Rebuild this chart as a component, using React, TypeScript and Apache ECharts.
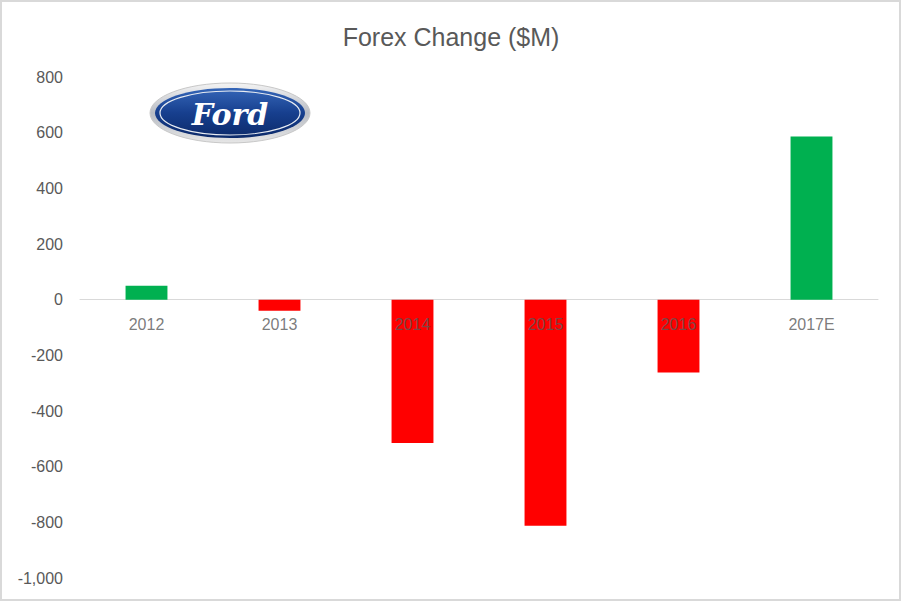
import React, { useEffect, useRef } from "react";
import * as echarts from "echarts";

const categories = ["2012", "2013", "2014", "2015", "2016", "2017E"];
const forexChange = [50, -40, -515, -812, -262, 586];
const yTicks = { min: -1000, max: 800, interval: 200 };

const GREEN = "#00B050";
const RED = "#FF0000";
const TEXT = "#595959";
const FONT = "Liberation Sans, Arial, sans-serif";

export default function App() {
  const ref = useRef<HTMLDivElement>(null);
  useEffect(() => {
    document.body.style.margin = "0";
    const chart = echarts.init(ref.current!, null, { renderer: "svg" });
    chart.setOption({
      animation: false,
      backgroundColor: "#ffffff",
      title: {
        text: "Forex Change ($M)",
        left: "center",
        top: 19,
        textStyle: { color: TEXT, fontSize: 25, fontWeight: "normal", fontFamily: FONT },
      },
      grid: { left: 80, right: 24, top: 77, bottom: 24, containLabel: false, outerBoundsMode: "none" },
      xAxis: {
        type: "category",
        data: categories,
        axisLine: { onZero: true, lineStyle: { color: "#d9d9d9", width: 1 } },
        axisTick: { show: false },
        axisLabel: { show: false },
        splitLine: { show: false },
      },
      yAxis: {
        type: "value",
        min: yTicks.min,
        max: yTicks.max,
        interval: yTicks.interval,
        axisLine: { show: false },
        axisTick: { show: false },
        splitLine: { show: false },
        axisLabel: {
          color: TEXT,
          fontSize: 16,
          margin: 17,
          fontFamily: FONT,
          formatter: (v: number) => v.toLocaleString("en-US"),
        },
      },
      series: [
        {
          type: "bar",
          z: 2,
          data: forexChange.map((v) => ({ value: v, itemStyle: { color: v >= 0 ? GREEN : RED } })),
          barWidth: "31.5%",
        },
        {
          type: "scatter",
          z: 5,
          silent: true,
          symbolSize: 1,
          itemStyle: { color: "rgba(0,0,0,0)" },
          data: categories.map(() => 0),
          label: {
            show: true,
            position: "bottom",
            distance: 16,
            formatter: (p: any) => categories[p.dataIndex],
            color: TEXT,
            fontSize: 16,
            fontFamily: FONT,
          },
        },
      ],
      graphic: [
        {
          type: "rect",
          shape: { x: 1, y: 1, width: 899, height: 599 },
          style: { fill: "none", stroke: "#d9d9d9", lineWidth: 2 },
          silent: true,
        },
        {
          type: "group",
          children: [
            {
              type: "ellipse",
              shape: { cx: 230, cy: 113, rx: 80, ry: 30 },
              style: {
                fill: new echarts.graphic.LinearGradient(0, 0, 0, 1, [
                  { offset: 0, color: "#f4f4f4" },
                  { offset: 0.5, color: "#b8bcc4" },
                  { offset: 1, color: "#e6e6e6" },
                ]),
                stroke: "#c8c8c8",
                lineWidth: 1,
              },
            },
            {
              type: "ellipse",
              shape: { cx: 230, cy: 113, rx: 75, ry: 25 },
              style: {
                fill: new echarts.graphic.LinearGradient(0, 0, 0, 1, [
                  { offset: 0, color: "#3566b8" },
                  { offset: 0.5, color: "#173f8e" },
                  { offset: 1, color: "#0c2a6a" },
                ]),
              },
            },
            {
              type: "ellipse",
              shape: { cx: 230, cy: 113, rx: 70, ry: 22 },
              style: { fill: "none", stroke: "#e8ecf2", lineWidth: 1.2 },
            },
            {
              type: "text",
              x: 230,
              y: 114,
              style: {
                text: "Ford",
                fill: "#ffffff",
                font: "italic bold 30px 'DejaVu Serif', serif",
                align: "center",
                verticalAlign: "middle",
              },
            },
          ],
        },
      ],
    });
    return () => chart.dispose();
  }, []);
  return <div ref={ref} style={{ position: "fixed", left: 0, top: 0, width: 902, height: 602 }} />;
}
